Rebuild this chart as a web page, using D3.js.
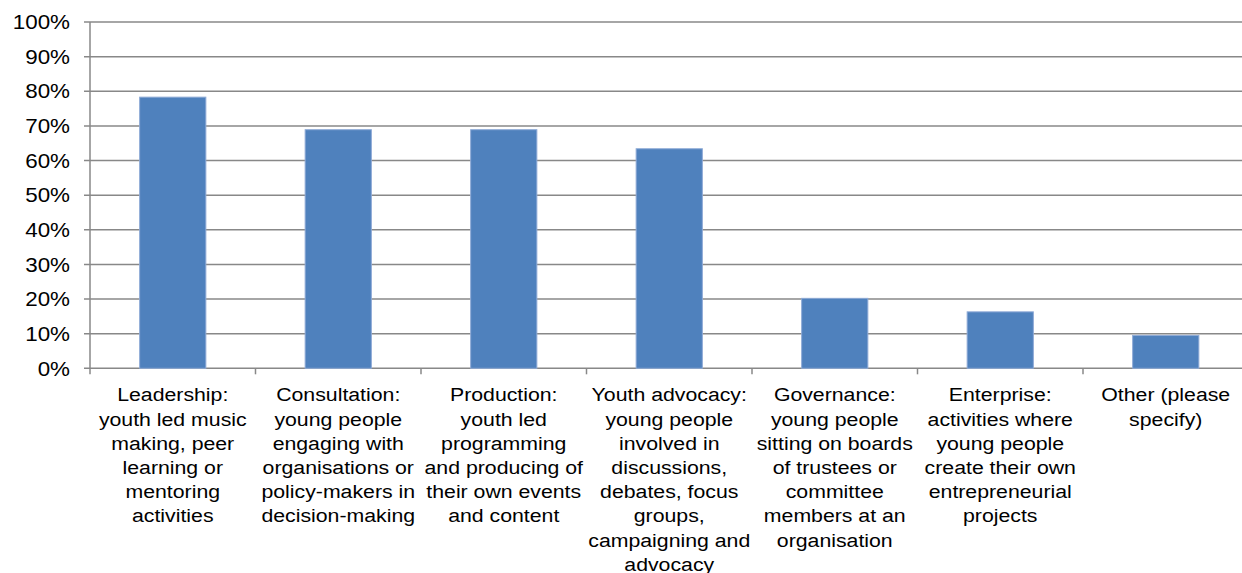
<!DOCTYPE html>
<html>
<head>
<meta charset="utf-8">
<script src="https://cdn.jsdelivr.net/npm/d3@7"></script>
<style>
  html, body { margin: 0; padding: 0; background: #fff; }
  svg { display: block; }
  text { font-family: "Liberation Sans", Arial, sans-serif; fill: #000; }
</style>
</head>
<body>
<svg id="chart" width="1242" height="573"></svg>
<script>
// ---- data ----
const categories = [
  "Leadership: youth led music making, peer learning or mentoring activities",
  "Consultation: young people engaging with organisations or policy-makers in decision-making",
  "Production: youth led programming and producing of their own events and content",
  "Youth advocacy: young people involved in discussions, debates, focus groups, campaigning and advocacy",
  "Governance: young people sitting on boards of trustees or committee members at an organisation",
  "Enterprise: activities where young people create their own entrepreneurial projects",
  "Other (please specify)"
];
const categoryLines = [
  ["Leadership:", "youth led music", "making, peer", "learning or", "mentoring", "activities"],
  ["Consultation:", "young people", "engaging with", "organisations or", "policy-makers in", "decision-making"],
  ["Production:", "youth led", "programming", "and producing of", "their own events", "and content"],
  ["Youth advocacy:", "young people", "involved in", "discussions,", "debates, focus", "groups,", "campaigning and", "advocacy"],
  ["Governance:", "young people", "sitting on boards", "of trustees or", "committee", "members at an", "organisation"],
  ["Enterprise:", "activities where", "young people", "create their own", "entrepreneurial", "projects"],
  ["Other (please", "specify)"]
];
const values = [0.783, 0.689, 0.689, 0.634, 0.202, 0.163, 0.095];
const yTicks = [0, 0.1, 0.2, 0.3, 0.4, 0.5, 0.6, 0.7, 0.8, 0.9, 1.0];

// ---- layout ----
const svg = d3.select("#chart");
const plotLeft = 90, plotRight = 1248.5, plotTop = 22, plotBottom = 368.3;
const gridColor = "#888888";
const stretch = 1.12;

const x = d3.scaleBand().domain(categories).range([plotLeft, plotRight])
  .paddingInner(0.6).paddingOuter(0.3);
const y = d3.scaleLinear().domain([0, 1]).range([plotBottom, plotTop]);

// gridlines
svg.append("g").selectAll("line").data(yTicks).join("line")
  .attr("x1", plotLeft - 6).attr("x2", plotRight)
  .attr("y1", d => y(d)).attr("y2", d => y(d))
  .attr("stroke", gridColor).attr("stroke-width", 1.5);

// y axis line
svg.append("line")
  .attr("x1", plotLeft).attr("x2", plotLeft)
  .attr("y1", plotTop).attr("y2", plotBottom + 6)
  .attr("stroke", gridColor).attr("stroke-width", 1.5);

// x boundary ticks
const step = x.step();
const boundaries = d3.range(1, categories.length + 1).map(i => plotLeft + i * step);
svg.append("g").selectAll("line").data(boundaries).join("line")
  .attr("x1", d => d).attr("x2", d => d)
  .attr("y1", plotBottom).attr("y2", plotBottom + 6)
  .attr("stroke", gridColor).attr("stroke-width", 1.5);

// y labels
svg.append("g").selectAll("text").data(yTicks).join("text")
  .attr("transform", d => `translate(70,${y(d)}) scale(${stretch},1)`)
  .attr("text-anchor", "end")
  .attr("dy", "0.36em")
  .style("font-size", "20px")
  .text(d => d3.format(".0%")(d));

// bars
svg.append("g").selectAll("rect").data(values).join("rect")
  .attr("x", (d, i) => x(categories[i]))
  .attr("width", x.bandwidth())
  .attr("y", d => y(d))
  .attr("height", d => y(0) - y(d))
  .attr("fill", "#4F81BD")
  .attr("stroke", "#8eaad6")
  .attr("stroke-width", 1);

// x labels
const lineH = 24.2, firstBase = 401.3;
const lab = svg.append("g").selectAll("g").data(categories).join("g")
  .attr("transform", d => `translate(${x(d) + x.bandwidth() / 2},0)`);
lab.each(function(d, i) {
  d3.select(this).selectAll("text").data(categoryLines[i]).join("text")
    .attr("transform", (t, j) => `translate(0,${firstBase + j * lineH}) scale(${stretch},1)`)
    .attr("text-anchor", "middle")
    .style("font-size", "19px")
    .text(t => t);
});
</script>
</body>
</html>
